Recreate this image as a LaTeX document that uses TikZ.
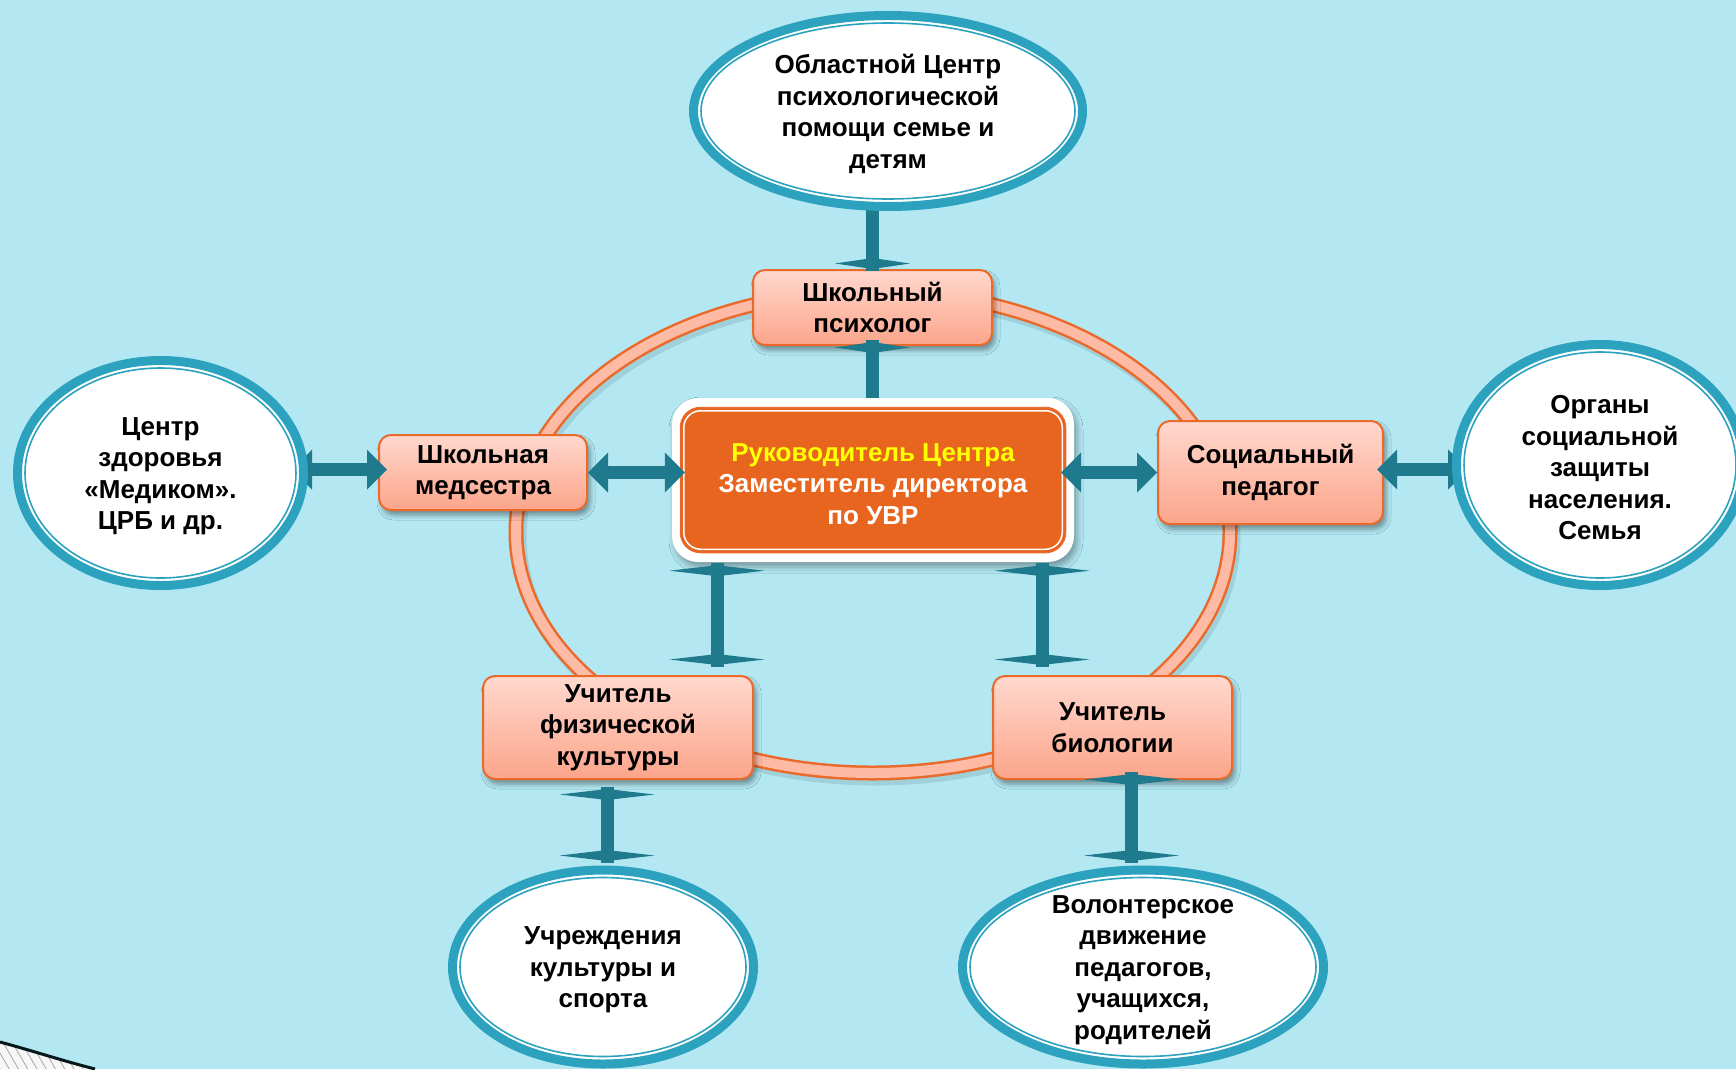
\documentclass[tikz,border=0pt]{standalone}
\usepackage{fontspec}
\setmainfont{Liberation Sans}
\usetikzlibrary{arrows.meta,shapes.geometric,shadows,shadows.blur,patterns.meta,calc}
\definecolor{bgc}{HTML}{B3E8F2}
\definecolor{arrowteal}{HTML}{1F7A8D}
\definecolor{ringteal}{HTML}{2CA2BF}
\definecolor{boxtop}{HTML}{FFD8CE}
\definecolor{boxbot}{HTML}{FCA58A}
\definecolor{boxedge}{HTML}{EA6A2C}
\definecolor{ctrfill}{HTML}{E8651F}
\definecolor{ringfill}{HTML}{FDBBA6}
\definecolor{yel}{HTML}{FFFF00}
\newcommand\ovalnode[6]{%
  \node[oval, minimum width={2*#4pt}, minimum height={2*#5pt}] (#1) at (#2,#3) {};
  \draw[ringteal, line width=1.6pt] (#1.center) ellipse [x radius={#4pt-7.5pt}, y radius={#5pt-7.5pt}];
  \node[txt, yshift=-3pt] (#1t) at (#1.center) {#6};}
\begin{document}
\begin{tikzpicture}[x=1pt,y=-1pt,
  txt/.style={font=\fontsize{26pt}{31.5pt}\selectfont\bfseries, align=center, text=black, inner sep=0pt},
  rolebox/.style={rectangle, rounded corners=12pt, draw=boxedge, line width=2pt,
     top color=boxtop, bottom color=boxbot, inner sep=0pt, txt,
     blur shadow={shadow xshift=3pt, shadow yshift=-5pt, shadow blur radius=5pt, shadow opacity=40}},
  oval/.style={ellipse, draw=ringteal, line width=9pt, fill=white, inner sep=0pt},
  vboth/.style={draw=arrowteal, line width=13pt,
     arrows={Kite[length=11pt,width=95pt,inset=5.5pt,line width=0pt]-Kite[length=11pt,width=95pt,inset=5.5pt,line width=0pt]}},
  vone/.style={draw=arrowteal, line width=13pt,
     arrows={Kite[length=11pt,width=75pt,inset=5.5pt,line width=0pt]-}},
  vtop/.style={draw=arrowteal, line width=13pt,
     arrows={Kite[length=11pt,width=75pt,inset=5.5pt,line width=0pt]-Kite[length=11pt,width=75pt,inset=5.5pt,line width=0pt]}},
  hboth/.style={draw=arrowteal, line width=13pt,
     arrows={Triangle[length=20pt,width=40pt,line width=0pt]-Triangle[length=20pt,width=40pt,line width=0pt]}},
]
\useasboundingbox (0,0) rectangle (1736,1069);
\fill[bgc] (0,0) rectangle (1736,1069);
\clip (0,0) rectangle (1736,1069);

% corner decoration
\fill[gray!6] (0,1042) .. controls (30,1050) and (60,1060) .. (95,1069) -- (0,1069) -- cycle;
\fill[pattern={Lines[angle=-60,distance=8pt,line width=0.8pt]}, pattern color=gray!70]
  (0,1042) .. controls (30,1050) and (60,1060) .. (95,1069) -- (0,1069) -- cycle;
\draw[line width=3pt, black!80!arrowteal] (0,1042) .. controls (30,1050) and (60,1060) .. (95,1069);

% ring
\draw[line width=15pt, black, opacity=0.10] (876,537) ellipse [x radius=357pt, y radius=241pt];
\draw[line width=15pt, boxedge] (873,532) ellipse [x radius=357pt, y radius=241pt];
\draw[line width=10pt, ringfill] (873,532) ellipse [x radius=357pt, y radius=241pt];

% role boxes
\node[rolebox, minimum width=239pt, minimum height=75pt] (psy) at (872.5,307.5) {Школьный\\психолог};
\node[rolebox, minimum width=208pt, minimum height=75pt] (med) at (483,472.5) {Школьная\\медсестра};
\node[rolebox, minimum width=225pt, minimum height=103pt] (soc) at (1270.5,472.5) {Социальный\\педагог};
\node[rolebox, minimum width=270pt, minimum height=103pt] (phys) at (618,727.5) {Учитель\\физической\\культуры};
\node[rolebox, minimum width=239pt, minimum height=103pt] (bio) at (1112.5,727.5) {Учитель\\биологии};

% psychologist to centre
\draw[vone] ($(psy.south)+(0,-4)$) -- (psy.south |- 0,400);

% centre box
\node[rectangle, rounded corners=26pt, fill=white, minimum width=402pt, minimum height=164pt,
  blur shadow={shadow xshift=3pt, shadow yshift=-5pt, shadow blur radius=6pt, shadow opacity=35}] (ctr) at (873,480) {};
\node[rectangle, rounded corners=20pt, fill=ctrfill, draw=boxedge, line width=1.5pt,
  minimum width=385pt, minimum height=145pt] (ctrin) at (ctr.center) {};
\draw[white, line width=1.5pt, rounded corners=17pt] ($(ctrin.north west)+(4,4)$) rectangle ($(ctrin.south east)+(-4,-4)$);
\node[txt, text=white] (ctrt) at (873,484) {\textcolor{yel}{Руководитель Центра}\\Заместитель директора\\по УВР};

\coordinate (c1a) at ([xshift=-156pt,yshift=-3pt]ctr.south);
\coordinate (c2a) at ([xshift=169pt,yshift=-3pt]ctr.south);

% arrows
\draw[vtop] ($(psy.north)+(0,-101)$) -- (psy.north);
\draw[vboth] (c1a) -- ($(c1a |- phys.north)+(0,-10)$);
\draw[vboth] (c2a) -- ($(c2a |- bio.north)+(0,-10)$);
\draw[vboth] ($(phys.south)+(-11,9)$) -- ($(phys.south)+(-11,81)$);
\draw[vboth] ($(bio.south)+(19,-6)$) -- ($(bio.south)+(19,81)$);
\draw[hboth] ($(med.west)+(-86,-3)$) -- ($(med.west)+(9,-3)$);
\draw[hboth] (med.east) -- ($(med.east -| ctr.west)+(13,0)$);
\draw[hboth] ($(soc.west -| ctr.east)+(-13,0)$) -- (soc.west);
\draw[hboth] ($(soc.east)+(-7,-3)$) -- ($(soc.east)+(84,-3)$);

% ellipses
\ovalnode{top}{888}{111}{194.5}{95.5}{Областной Центр\\психологической\\помощи семье и\\детям}
\ovalnode{lft}{160.5}{473}{143}{112.5}{Центр\\здоровья\\«Медиком».\\ЦРБ и др.}
\ovalnode{rgt}{1600}{465}{143.5}{120.5}{Органы\\социальной\\защиты\\населения.\\Семья}
\ovalnode{bl}{603}{967}{150.5}{97}{Учреждения\\культуры и\\спорта}
\ovalnode{br}{1143}{967}{180.5}{97}{Волонтерское\\движение\\педагогов,\\учащихся,\\родителей}
\end{tikzpicture}
\end{document}
